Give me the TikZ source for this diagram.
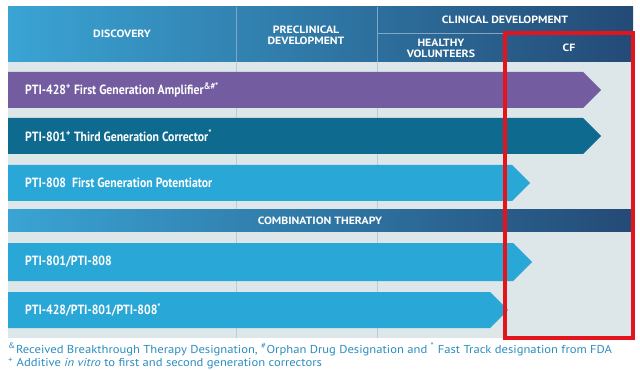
\documentclass[tikz,border=0pt]{standalone}
\usepackage{fontspec}
\setmainfont{PT Sans}
\newfontfamily\barfont{PT Sans}[FakeStretch=0.88]
\newfontfamily\hdrfont{PT Sans}[FakeStretch=1.12]
\newfontfamily\notefont{PT Sans}[FakeStretch=1.1]
\usepackage{tikz}

\begin{document}
\begin{tikzpicture}[
  x=0.03cm, y=-0.03cm,
  hdr/.style={font=\hdrfont\bfseries\fontsize{9}{9.6}\selectfont, text=white, align=center, inner sep=1pt},
  bartext/.style={anchor=west, font=\barfont\bfseries\fontsize{11.4}{12}\selectfont, text=white, inner sep=0pt},
  band/.style={left color=hdrLight, middle color=hdrMid, right color=hdrDark},
  grid/.style={draw=gridLine, line width=0.6pt},
  hline/.style={draw=hdrLine, line width=0.5pt},
  note/.style={anchor=base west, font=\notefont\fontsize{9.8}{11}\selectfont, text=noteBlue, inner sep=0pt},
]
\definecolor{hdrLight}{HTML}{3AA4D4}
\definecolor{hdrMid}{HTML}{2C6190}
\definecolor{hdrDark}{HTML}{244A76}
\definecolor{hdrLine}{HTML}{7FA6C4}
\definecolor{cellBg}{HTML}{DDE6E9}
\definecolor{gridLine}{HTML}{B7CDD8}
\definecolor{ampPurple}{HTML}{735CA0}
\definecolor{corTeal}{HTML}{0E6B8F}
\definecolor{potSky}{HTML}{29A7D6}
\definecolor{redBox}{HTML}{E3141C}
\definecolor{noteBlue}{HTML}{2B8DBE}

\useasboundingbox (0,0) rectangle (640,370);

% stage header
\shade[band] (8,7) rectangle (633,62);
\draw[hline] (236,7) -- (236,62);
\draw[hline] (377,7) -- (377,62);
\draw[hline] (377,33) -- (633,33);
\draw[hline] (505,33) -- (505,62);
\node[hdr] (disc) at (122,34) {DISCOVERY};
\node[hdr] (precl) at (306,35) {PRECLINICAL\\DEVELOPMENT};
\node[hdr] (clin) at (505,20) {CLINICAL DEVELOPMENT};
\node[hdr] (healthy) at (441,48) {HEALTHY\\VOLUNTEERS};
\node[hdr] (cf) at (569,48) {CF};

% pipeline body
\fill[cellBg] (8,62) rectangle (633,338);
\draw[grid] (236,62) -- (236,338);
\draw[grid] (377,62) -- (377,338);
\draw[grid] (505,62) -- (505,338);

\fill[ampPurple] (8,72) -- (583,72) -- (601,90) -- (583,108) -- (8,108) -- cycle;
\node[bartext] (amp) at (25,90)
  {PTI-428\textsuperscript{+} First Generation Amplifier\textsuperscript{\&\#*}};
\fill[corTeal] (8,118) -- (583,118) -- (601,136) -- (583,154) -- (8,154) -- cycle;
\node[bartext] (cor) at (25,136)
  {PTI-801\textsuperscript{+} Third Generation Corrector\textsuperscript{*}};
\fill[potSky] (8,165) -- (512,165) -- (530,183) -- (512,201) -- (8,201) -- cycle;
\node[bartext] (pot) at (25,183) {PTI-808\ \ First Generation Potentiator};

\shade[band] (8,210) rectangle (633,231);
\node[hdr] (combo) at (320,220.5) {COMBINATION THERAPY};

\fill[potSky] (8,243) -- (513,243) -- (532,262) -- (513,281) -- (8,281) -- cycle;
\node[bartext] (duo) at (25,262) {PTI-801/PTI-808};
\fill[potSky] (8,292) -- (490,292) -- (508,310) -- (490,328) -- (8,328) -- cycle;
\node[bartext] (trio) at (25,310) {PTI-428/PTI-801/PTI-808\textsuperscript{*}};

% highlighted CF column
\draw[draw=redBox, line width=3pt] (505,33) rectangle (633,338);

\node[note] (fda) at (8,353)
  {\textsuperscript{\&}Received Breakthrough Therapy Designation, \textsuperscript{\#}Orphan Drug Designation and \textsuperscript{*} Fast Track designation from FDA};
\node[note] (additive) at (8,366.5)
  {\textsuperscript{+} Additive \textit{in vitro} to first and second generation correctors};
\end{tikzpicture}
\end{document}
